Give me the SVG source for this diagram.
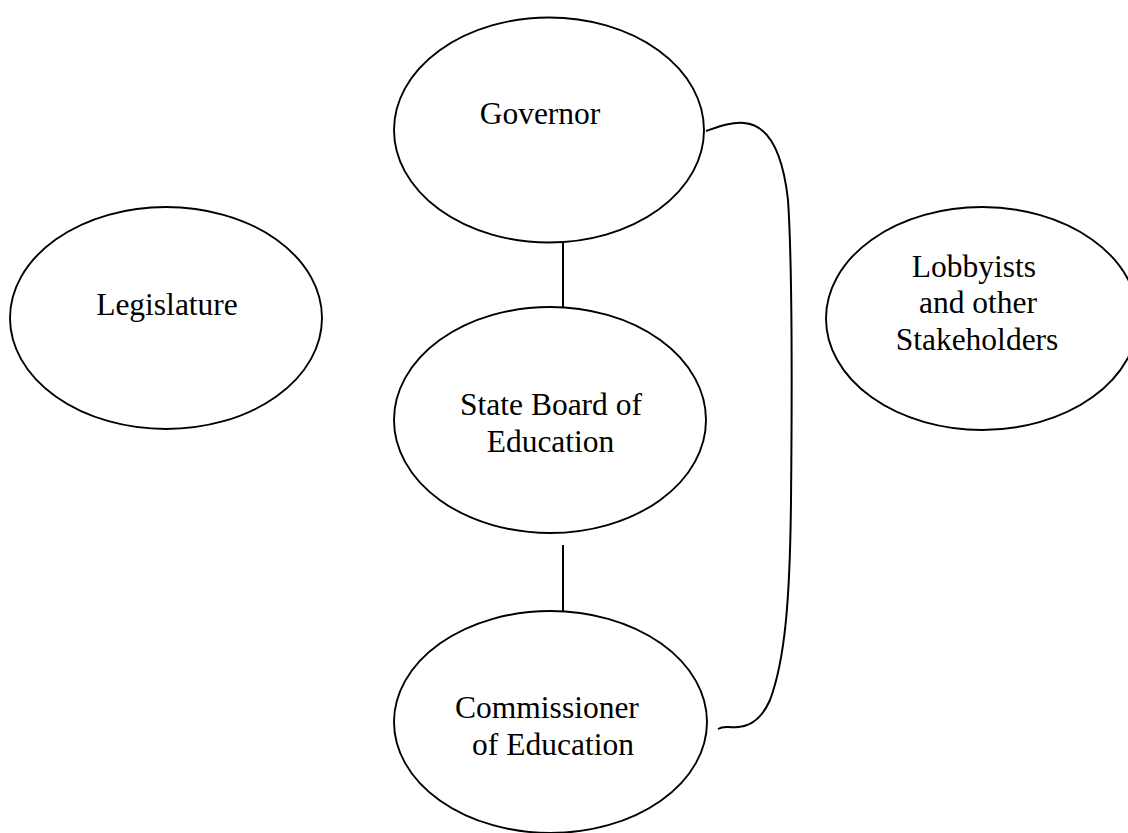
<svg xmlns="http://www.w3.org/2000/svg" width="1128" height="833" viewBox="0 0 1128 833">
<style>
.n{fill:#fff;stroke:#000;stroke-width:1.9}
.c{fill:none;stroke:#000;stroke-width:2}
text{font-family:"Liberation Serif","Times New Roman",serif;font-size:31.5px;fill:#000;text-anchor:middle}
</style>
<rect width="1128" height="833" fill="#fff"/>
<g id="connectors">
<line class="c" x1="563" y1="242" x2="563" y2="307"/>
<line class="c" x1="563" y1="545" x2="563" y2="612"/>
<path class="c" d="M706,131 C718,127 730,122 744,123 C770,125 783,155 788,200 C792,260 792,400 791,500 C790,600 785,660 770,700 C763,716 752,726 738,727 C728,728 724,725 718,729"/>
</g>
<g id="governor">
<ellipse class="n" cx="549" cy="130" rx="155" ry="112.5"/>
<text x="540" y="124">Governor</text>
</g>
<g id="legislature">
<ellipse class="n" cx="166" cy="318" rx="156" ry="111"/>
<text x="167" y="315">Legislature</text>
</g>
<g id="lobbyists">
<ellipse class="n" cx="982" cy="318.5" rx="156" ry="111.5"/>
<text x="974" y="277">Lobbyists</text>
<text x="978" y="313">and other</text>
<text x="977" y="350">Stakeholders</text>
</g>
<g id="state-board">
<ellipse class="n" cx="550" cy="420" rx="156" ry="113"/>
<text x="551" y="415">State Board of</text>
<text x="550.5" y="452">Education</text>
</g>
<g id="commissioner">
<ellipse class="n" cx="550.5" cy="722" rx="156.5" ry="111"/>
<text x="547" y="718">Commissioner</text>
<text x="553" y="755">of Education</text>
</g>
</svg>
